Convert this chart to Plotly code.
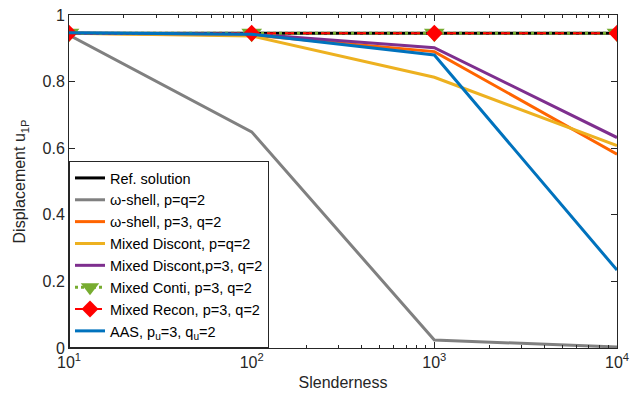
import plotly.graph_objects as go

# Slenderness values (log scale)
slenderness = [10, 100, 1000, 10000]

# Tip displacement u_1P for each formulation
ref_solution = [0.945, 0.945, 0.945, 0.945]
omega_p2q2 = [0.940, 0.649, 0.024, 0.003]
omega_p3q2 = [0.945, 0.940, 0.890, 0.582]
mixed_discont_p2q2 = [0.945, 0.937, 0.813, 0.608]
mixed_discont_p3q2 = [0.945, 0.943, 0.902, 0.632]
mixed_conti_p3q2 = [0.945, 0.945, 0.945, 0.945]
mixed_recon_p3q2 = [0.945, 0.945, 0.945, 0.945]
aas_p3q2 = [0.947, 0.942, 0.880, 0.234]

x_tickvals = [10, 100, 1000, 10000]
x_ticktext = ["10<sup>1</sup>", "10<sup>2</sup>", "10<sup>3</sup>", "10<sup>4</sup>"]
y_tickvals = [0, 0.2, 0.4, 0.6, 0.8, 1]
y_ticktext = ["0", "0.2", "0.4", "0.6", "0.8", "1"]

FONT = "Liberation Sans, Arial, sans-serif"
AXIS = "#262626"

fig = go.Figure()

def line(y, name, color, width=3, dash="solid", marker=None):
    mode = "lines+markers" if marker else "lines"
    fig.add_trace(go.Scatter(
        x=slenderness, y=y, name=name, mode=mode,
        line=dict(color=color, width=width, dash=dash),
        marker=marker,
    ))

line(ref_solution, "Ref. solution", "#000000")
line(omega_p2q2, "\u03c9-shell, p=q=2", "#808080")
line(omega_p3q2, "\u03c9-shell, p=3, q=2", "#FF6400")
line(mixed_discont_p2q2, "Mixed Discont, p=q=2", "#EDB120")
line(mixed_discont_p3q2, "Mixed Discont,p=3, q=2", "#7E2F8E")
line(mixed_conti_p3q2, "Mixed Conti, p=3, q=2", "#77AC30", dash="dot",
     marker=dict(symbol="triangle-down", size=18, color="#77AC30"))
line(mixed_recon_p3q2, "Mixed Recon, p=3, q=2", "#FF0000", width=2, dash="dash",
     marker=dict(symbol="diamond", size=13, color="#FF0000"))
line(aas_p3q2, "AAS, p<sub>u</sub>=3, q<sub>u</sub>=2", "#0072BD")

minor_vals = [m * 10 ** k for k in range(1, 4) for m in range(2, 10)]

fig.update_xaxes(
    type="log", range=[1, 4], automargin=False,
    tickvals=x_tickvals, ticktext=x_ticktext,
    ticks="inside", ticklen=6, tickcolor=AXIS,
    showline=True, linecolor=AXIS, linewidth=1, mirror="ticks",
    showgrid=False, zeroline=False,
    minor=dict(ticks="inside", ticklen=3, tickvals=minor_vals, tickcolor=AXIS, showgrid=False),
    tickfont=dict(family=FONT, size=16, color=AXIS),
    title=dict(text="Slenderness", font=dict(family=FONT, size=16, color=AXIS), standoff=6),
)
fig.update_yaxes(
    range=[0, 1], automargin=False,
    tickvals=y_tickvals, ticktext=y_ticktext,
    ticks="inside", ticklen=6, tickcolor=AXIS,
    showline=True, linecolor=AXIS, linewidth=1, mirror="ticks",
    showgrid=False, zeroline=False,
    tickfont=dict(family=FONT, size=16, color=AXIS),
    title=dict(text="Displacement u<sub>1P</sub>", font=dict(family=FONT, size=16, color=AXIS), standoff=12),
)

fig.update_layout(
    width=630, height=404,
    margin=dict(l=69, r=13, t=15, b=56),
    plot_bgcolor="white", paper_bgcolor="white",
    font=dict(family=FONT, color="#000000"),
    legend=dict(
        x=0, y=0, xanchor="left", yanchor="bottom",
        bordercolor=AXIS, borderwidth=1, bgcolor="white",
        font=dict(family=FONT, size=14.5, color="#000000"),
        itemwidth=30, tracegroupgap=0,
    ),
    showlegend=True,
)

fig.write_html("out.html")
